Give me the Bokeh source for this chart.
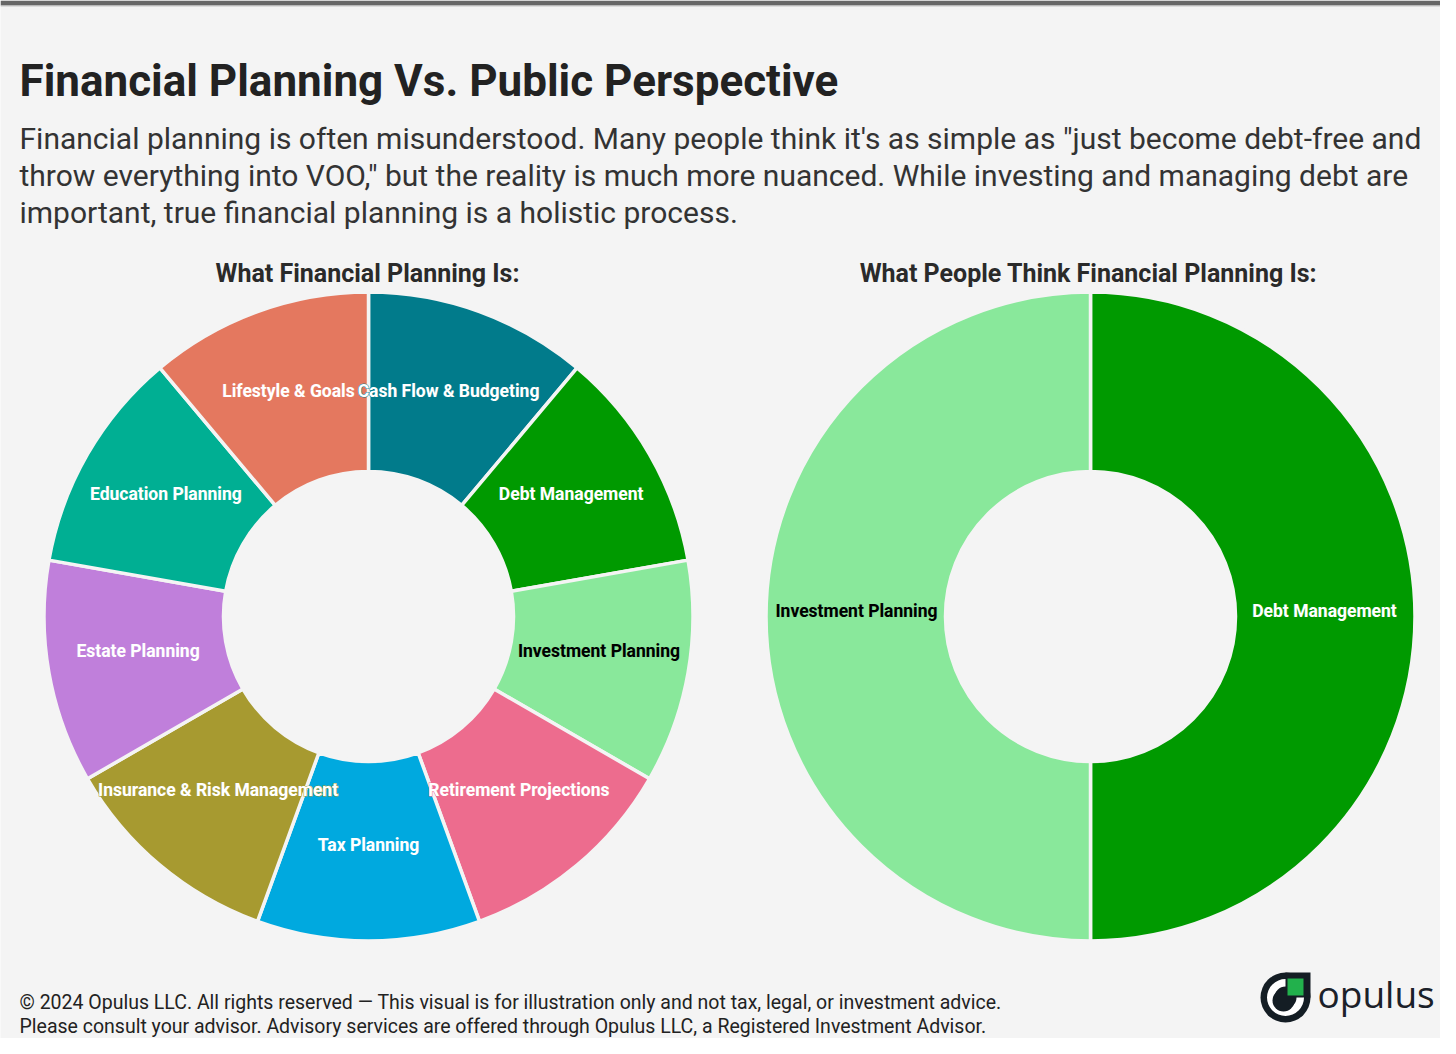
import numpy as np
from bokeh.plotting import figure
from bokeh.models import Range1d, ColumnDataSource
from bokeh.core.properties import value
from bokeh.embed import file_html
from bokeh.resources import INLINE

# ---------------- data ----------------
actual_categories = ["Cash Flow & Budgeting", "Debt Management", "Investment Planning",
                     "Retirement Projections", "Tax Planning", "Insurance & Risk Management",
                     "Estate Planning", "Education Planning", "Lifestyle & Goals"]
actual_shares = [1, 1, 1, 1, 1, 1, 1, 1, 1]
actual_colors = ["#017b8b", "#009a00", "#89e89b", "#ed6c8e", "#00a9df",
                 "#a79a30", "#c07fdb", "#00af93", "#e4785f"]
actual_text_colors = ["white", "white", "black", "white", "white",
                      "white", "white", "white", "white"]

perceived_categories = ["Debt Management", "Investment Planning"]
perceived_shares = [1, 1]
perceived_colors = ["#009a00", "#89e89b"]
perceived_text_colors = ["white", "black"]

title = "Financial Planning Vs. Public Perspective"
subtitle_lines = [
    "Financial planning is often misunderstood. Many people think it's as simple as \"just become debt-free and",
    "throw everything into VOO,\" but the reality is much more nuanced. While investing and managing debt are",
    "important, true financial planning is a holistic process.",
]
panel_titles = ["What Financial Planning Is:", "What People Think Financial Planning Is:"]
footer_lines = [
    "\u00a9 2024 Opulus LLC. All rights reserved \u2014 This visual is for illustration only and not tax, legal, or investment advice.",
    "Please consult your advisor. Advisory services are offered through Opulus LLC, a Registered Investment Advisor.",
]

# ---------------- figure ----------------
W, H = 1440, 1038
BG = "#f4f4f4"
FONT = value("Roboto")

p = figure(width=W, height=H, x_range=Range1d(0, W), y_range=Range1d(0, H),
           output_backend="svg", toolbar_location=None,
           x_axis_type=None, y_axis_type=None, min_border=0,
           background_fill_color=BG, border_fill_color=BG, outline_line_color=None)
p.grid.visible = False

# top strip
p.quad(left=[0], right=[W], bottom=[H - 5], top=[H], fill_color="#676767", line_color=None)
p.quad(left=[0], right=[W], bottom=[H - 6], top=[H - 5], fill_color="#c4c4c4", line_color=None)

R_IN, R_OUT, R_LAB = 145, 324.5, 234


def donut(cx, cy, cats, shares, colors, tcols):
    s = np.array(shares, dtype=float)
    frac = s / s.sum()
    ends = np.cumsum(frac)
    starts = ends - frac
    a0 = np.pi / 2 - 2 * np.pi * starts
    a1 = np.pi / 2 - 2 * np.pi * ends
    mid = (a0 + a1) / 2
    src = ColumnDataSource(dict(start=a1, end=a0, color=colors))
    p.annular_wedge(x=cx, y=cy, inner_radius=R_IN, outer_radius=R_OUT,
                    start_angle="start", end_angle="end", fill_color="color",
                    line_color=BG, line_width=3.5, line_join="round", source=src)
    lx = cx + R_LAB * np.cos(mid)
    ly = cy + R_LAB * np.sin(mid) + 6
    lab = ColumnDataSource(dict(x=list(lx)[::-1], y=list(ly)[::-1], text=list(cats)[::-1],
                                color=list(tcols)[::-1], outline=list(colors)[::-1]))
    kw = dict(x="x", y="y", text="text", source=lab, text_font=FONT, text_font_style="bold",
              text_font_size="17.5px", text_align="center", text_baseline="middle")
    # halo layer (slice-coloured outline), then clean text on top
    p.text(text_color="color", text_outline_color="outline", **kw)
    p.text(text_color="color", **kw)


donut(368, 422, actual_categories, actual_shares, actual_colors, actual_text_colors)
donut(1090, 422, perceived_categories, perceived_shares, perceived_colors, perceived_text_colors)

# ---------------- texts ----------------
p.text(x=[19], y=[958], text=[title], text_font=FONT, text_font_style="bold",
       text_font_size="44px", text_color="#222222", text_align="left", text_baseline="middle")
p.text(x=[19, 19, 19], y=[900, 863, 826], text=subtitle_lines, text_font=FONT,
       text_font_size="30px", text_color="#333333", text_align="left", text_baseline="middle")
p.text(x=[367, 1088], y=[765, 765], text=panel_titles, text_font=FONT, text_font_style="bold",
       text_font_size="25px", text_color="#2a2a2a", text_align="center", text_baseline="middle")
p.text(x=[19, 19], y=[36.5, 12.5], text=footer_lines, text_font=FONT,
       text_font_size="19.5px", text_color="#222222", text_align="left", text_baseline="middle")

# ---------------- logo ----------------
DARK = "#141d24"
p.circle(x=[1285], y=[41], radius=25, fill_color=DARK, line_color=None)
p.quad(left=[1285], right=[1310], bottom=[41], top=[66], fill_color=DARK, line_color=None)
p.annular_wedge(x=[1285], y=[41], inner_radius=11, outer_radius=18.5,
                start_angle=np.pi / 2, end_angle=2 * np.pi, fill_color="white", line_color=None)
p.circle(x=[1283], y=[38], radius=11, fill_color=DARK, line_color=None)
p.quad(left=[1287], right=[1303], bottom=[43], top=[60], fill_color="#22b14c", line_color=None)
p.text(x=[1317], y=[45], text=["opulus"], text_font=value("Open Sans"), text_font_size="37px",
       text_color="#1b2129", text_align="left", text_baseline="middle")

open("out.html", "w").write(file_html(p, INLINE))
